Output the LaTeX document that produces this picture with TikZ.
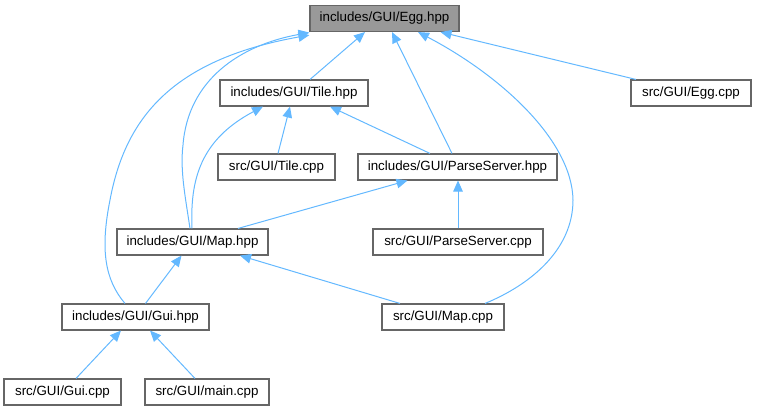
\documentclass[tikz,border=0pt]{standalone}
\usepackage{fontspec}
\setmainfont{Liberation Sans}
\usetikzlibrary{arrows.meta}
\definecolor{edgeblue}{HTML}{63B8FF}
\definecolor{boxline}{HTML}{666666}
\definecolor{rootfill}{HTML}{999999}
\tikzset{
  filebox/.style={draw=boxline, line width=1.1pt, fill=white, minimum height=26pt, inner sep=0pt,
    font=\fontsize{13.33}{16}\selectfont, text=black},
  rootbox/.style={filebox, fill=rootfill},
  dep/.style={draw=edgeblue, line width=1pt, -{Triangle[length=11pt,width=9.5pt]}}
}
\begin{document}
\begin{tikzpicture}[x=1pt,y=-1pt]
\useasboundingbox (0,0) rectangle (757,411);
\node[rootbox, minimum width=149pt] (egg) at (384.5,18.5) {includes/GUI/Egg.hpp};
\node[filebox, minimum width=148pt] (tile) at (294,93) {includes/GUI/Tile.hpp};
\node[filebox, minimum width=120pt] (eggcpp) at (691,93) {src/GUI/Egg.cpp};
\node[filebox, minimum width=117pt] (tilecpp) at (276.5,167) {src/GUI/Tile.cpp};
\node[filebox, minimum width=199pt] (pshpp) at (457.5,167) {includes/GUI/ParseServer.hpp};
\node[filebox, minimum width=151pt] (maphpp) at (192.5,242) {includes/GUI/Map.hpp};
\node[filebox, minimum width=170pt] (pscpp) at (458,242) {src/GUI/ParseServer.cpp};
\node[filebox, minimum width=147pt] (guihpp) at (135.5,317) {includes/GUI/Gui.hpp};
\node[filebox, minimum width=122pt] (mapcpp) at (443,317) {src/GUI/Map.cpp};
\node[filebox, minimum width=117pt] (guicpp) at (62.5,392) {src/GUI/Gui.cpp};
\node[filebox, minimum width=124pt] (maincpp) at (207,392) {src/GUI/main.cpp};

% to Egg.hpp
\draw[dep] ([xshift=16pt]tile.north) -- ([xshift=-19.5pt]egg.south);
\draw[dep] ([xshift=-55pt]eggcpp.north) -- ([xshift=56pt]egg.south);
\draw[dep] ([xshift=-5.5pt]pshpp.north) -- ([xshift=7.5pt]egg.south);
\draw[dep] ([xshift=42pt]mapcpp.north) .. controls (530,285) and (573,250) .. (573,200)
   .. controls (572,140) and (500,75) .. ([xshift=33.5pt]egg.south);
\draw[dep] ([xshift=-2.5pt]maphpp.north) .. controls (185,195) and (180,170) .. (183,145)
   .. controls (188,80) and (240,45) .. ([yshift=-0.5pt]egg.south west);
\draw[dep] ([xshift=-10.5pt]guihpp.north) .. controls (105,280) and (100,250) .. (110,200)
   .. controls (125,120) and (170,60) .. ([yshift=-3pt]egg.south west);
% to Tile.hpp
\draw[dep] ([xshift=1.5pt]tilecpp.north) -- ([xshift=-4pt]tile.south);
\draw[dep] ([xshift=-27.5pt]pshpp.north) -- ([xshift=36pt]tile.south);
\draw[dep] ([xshift=-0.5pt]maphpp.north) .. controls (190,180) and (200,140) .. ([xshift=-31pt]tile.south);
% to ParseServer.hpp
\draw[dep] ([xshift=45.5pt]maphpp.north) -- ([xshift=-50pt]pshpp.south);
\draw[dep] (pscpp.north) -- ([xshift=0.5pt]pshpp.south);
% to Map.hpp
\draw[dep] ([xshift=10pt]guihpp.north) -- ([xshift=-11pt]maphpp.south);
\draw[dep] ([xshift=-43pt]mapcpp.north) -- ([xshift=47.5pt]maphpp.south);
% to Gui.hpp
\draw[dep] ([xshift=13.5pt]guicpp.north) -- ([xshift=-14.5pt]guihpp.south);
\draw[dep] ([xshift=-12pt]maincpp.north) -- ([xshift=14.5pt]guihpp.south);
\end{tikzpicture}
\end{document}
